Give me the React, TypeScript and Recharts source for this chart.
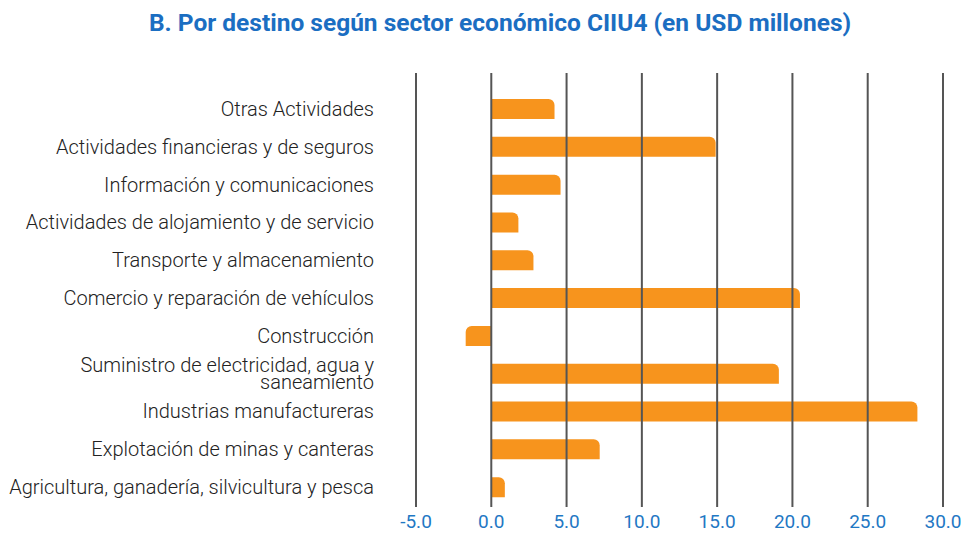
import { BarChart, Bar, XAxis, YAxis, ReferenceLine } from 'recharts';

const categories = [
  'Otras Actividades',
  'Actividades financieras y de seguros',
  'Información y comunicaciones',
  'Actividades de alojamiento y de servicio',
  'Transporte y almacenamiento',
  'Comercio y reparación de vehículos',
  'Construcción',
  'Suministro de electricidad, agua y\nsaneamiento',
  'Industrias manufactureras',
  'Explotación de minas y canteras',
  'Agricultura, ganadería, silvicultura y pesca',
];

const values = [4.2, 14.9, 4.6, 1.8, 2.8, 20.5, -1.7, 19.1, 28.3, 7.2, 0.9];

const xTicks = [-5, 0, 5, 10, 15, 20, 25, 30];

const data = categories.map((name, i) => ({ name, value: values[i] }));

const FONT = 'Roboto, "Noto Sans", sans-serif';

function CategoryTick(props: any) {
  const { x, y, payload } = props;
  const lines = String(payload.value).split('\n');
  const lineHeight = 17;
  const start = y - ((lines.length - 1) * lineHeight) / 2;
  return (
    <text
      x={x}
      y={start}
      textAnchor="end"
      fill="#222"
      fontSize={20}
      fontWeight={300}
      fontFamily={FONT}
    >
      {lines.map((line, i) => (
        <tspan key={i} x={x} y={start + i * lineHeight} dy="0.35em">
          {line}
        </tspan>
      ))}
    </text>
  );
}

export default function App() {
  return (
    <div style={{ position: 'absolute', left: 0, top: 0, width: 967, height: 533, background: '#fff' }}>
      <div
        style={{
          position: 'absolute',
          left: 0,
          top: 8,
          width: 1000,
          textAlign: 'center',
          fontFamily: FONT,
          fontWeight: 700,
          fontSize: 24.5,
          color: '#1B6EC2',
        }}
      >
        B. Por destino según sector económico CIIU4 (en USD millones)
      </div>
      <BarChart
        width={967}
        height={533}
        data={data}
        layout="vertical"
        margin={{ top: 73, right: 24, bottom: 0, left: 0 }}
        barSize={20}
      >
        <XAxis
          type="number"
          domain={[-5, 30]}
          ticks={xTicks}
          interval={0}
          tickFormatter={(v: number) => v.toFixed(1)}
          tickLine={false}
          axisLine={false}
          tickSize={0}
          tickMargin={8}
          height={26}
          tick={{ fill: '#1F78C4', fontSize: 19, fontFamily: FONT }}
        />
        <YAxis
          type="category"
          dataKey="name"
          width={416}
          interval={0}
          tickLine={false}
          axisLine={false}
          tickSize={0}
          tickMargin={42}
          padding={{ top: 17, bottom: 1 }}
          tick={<CategoryTick />}
        />
        <Bar dataKey="value" fill="#F7941D" radius={[0, 6, 0, 0]} isAnimationActive={false} />
        {xTicks.map((t) => (
          <ReferenceLine key={t} x={t} stroke="#555" strokeWidth={2} />
        ))}
      </BarChart>
    </div>
  );
}
